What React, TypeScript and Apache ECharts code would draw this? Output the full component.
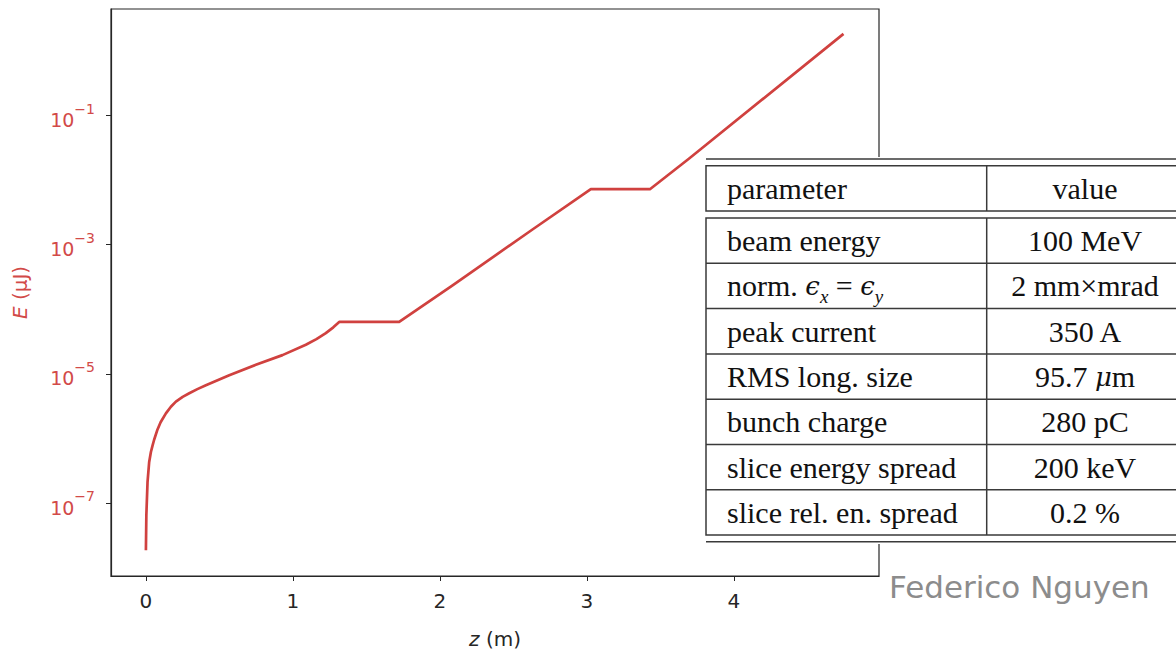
import React, { useEffect, useRef } from "react";
import * as echarts from "echarts";

// curve: position z (m) and pulse energy E (μJ)
const zValues = [
  0, 0.003, 0.011, 0.022, 0.034, 0.045, 0.056, 0.079, 0.1, 0.136, 0.17, 0.204, 0.25, 0.295, 0.35, 0.408, 0.567,
  0.748, 0.929, 1.088, 1.16, 1.224, 1.275, 1.315, 1.723, 2.084, 2.63, 3.027, 3.429, 3.696, 4.746,
];
const energyValues = [
  1.86e-8, 6.46e-8, 2.1e-7, 4.27e-7, 6.17e-7, 7.76e-7, 9.55e-7, 1.38e-6, 1.78e-6, 2.45e-6, 3.1e-6, 3.72e-6,
  4.4e-6, 5.01e-6, 5.8e-6, 6.68e-6, 9.55e-6, 1.38e-5, 1.95e-5, 2.82e-5, 3.45e-5, 4.27e-5, 5.25e-5, 6.37e-5,
  6.37e-5, 2.33e-4, 1.72e-3, 7.24e-3, 7.24e-3, 2.16e-2, 1.84,
];

const xTicks = [0, 1, 2, 3, 4];
const yTickExponents = [-7, -5, -3, -1];

const tableHeader = ["parameter", "value"];
const paramNames = [
  "beam energy",
  "norm. {it|ϵ}{sub|x} = {it|ϵ}{sub|y}",
  "peak current",
  "RMS long. size",
  "bunch charge",
  "slice energy spread",
  "slice rel. en. spread",
];
const paramValues = ["100 MeV", "2 mm×mrad", "350 A", "95.7 {it|μ}m", "280 pC", "200 keV", "0.2 %"];
const signature = "Federico Nguyen";

const RED = "#d0413f";
const LABEL_RED = "#d24a48";
const DARK = "#262626";
const SANS = "'DejaVu Sans', sans-serif";
const SERIF = "'Liberation Serif', 'DejaVu Serif', serif";

export default function App() {
  const ref = useRef<HTMLDivElement>(null);

  useEffect(() => {
    if (!ref.current) return;
    const chart = echarts.init(ref.current, null, { renderer: "svg" });

    const serifRich = {
      it: { fontFamily: "'DejaVu Serif', serif", fontStyle: "italic", fontSize: 26, color: "#111" },
      sub: { fontFamily: SERIF, fontStyle: "italic", fontSize: 19, color: "#111", verticalAlign: "bottom", lineHeight: 40 },
    };

    const lineStyle = { stroke: "#3a3a3a", lineWidth: 1.5 };
    const tableLeft = 706;
    const tableRight = 1200;
    const divX = 986.7;
    const headTop = 165.7;
    const headBottom = 211;
    const bodyTop = 218;
    const rowH = 45.3;
    const bodyBottom = bodyTop + rowH * paramNames.length;
    const leftTextX = 727;
    const rightCenterX = 1085;

    const graphics: any[] = [];
    graphics.push({ type: "rect", z: 100, shape: { x: 703, y: 157, width: 480, height: 387 }, style: { fill: "#fff", stroke: null } });
    graphics.push({ type: "line", z: 101, shape: { x1: tableLeft, y1: 159, x2: tableRight, y2: 159 }, style: lineStyle });
    graphics.push({ type: "rect", z: 101, shape: { x: tableLeft, y: headTop, width: tableRight - tableLeft, height: headBottom - headTop }, style: { ...lineStyle, fill: null } });
    graphics.push({ type: "line", z: 101, shape: { x1: divX, y1: headTop, x2: divX, y2: headBottom }, style: lineStyle });
    graphics.push({ type: "rect", z: 101, shape: { x: tableLeft, y: bodyTop, width: tableRight - tableLeft, height: bodyBottom - bodyTop }, style: { ...lineStyle, fill: null } });
    graphics.push({ type: "line", z: 101, shape: { x1: divX, y1: bodyTop, x2: divX, y2: bodyBottom }, style: lineStyle });
    for (let k = 1; k < paramNames.length; k++) {
      const y = bodyTop + rowH * k;
      graphics.push({ type: "line", z: 101, shape: { x1: tableLeft, y1: y, x2: tableRight, y2: y }, style: lineStyle });
    }
    graphics.push({ type: "line", z: 101, shape: { x1: tableLeft, y1: bodyBottom + 6.7, x2: tableRight, y2: bodyBottom + 6.7 }, style: lineStyle });

    const cellText = (text: string, x: number, y: number, align: string) => ({
      type: "text",
      z: 102,
      x,
      y,
      style: {
        text,
        fill: "#111",
        fontSize: 30,
        fontFamily: SERIF,
        align,
        verticalAlign: "middle",
        rich: serifRich,
      },
    });
    const headY = (headTop + headBottom) / 2;
    graphics.push(cellText(tableHeader[0], leftTextX, headY, "left"));
    graphics.push(cellText(tableHeader[1], rightCenterX, headY, "center"));
    paramNames.forEach((name, i) => {
      const y = bodyTop + rowH * (i + 0.5);
      graphics.push(cellText(name, leftTextX, y, "left"));
      graphics.push(cellText(paramValues[i], rightCenterX, y, "center"));
    });
    graphics.push({
      type: "text",
      z: 102,
      x: 889,
      y: 587,
      style: { text: signature, fill: "#8c8c8c", fontSize: 31, fontFamily: SANS, align: "left", verticalAlign: "middle" },
    });

    const option: any = {
      animation: false,
      backgroundColor: "#ffffff",
      grid: { left: 111, top: 9, right: 297, bottom: 73, show: true, borderColor: DARK, borderWidth: 1.2, backgroundColor: "transparent" },
      xAxis: {
        type: "value",
        min: -0.2375,
        max: 4.9875,
        axisLine: { show: true, onZero: false, lineStyle: { color: DARK, width: 1.2 } },
        axisTick: { show: true, customValues: xTicks, length: 5, lineStyle: { color: DARK, width: 1 } },
        axisLabel: { customValues: xTicks, color: DARK, fontSize: 20, fontFamily: SANS, margin: 15 },
        splitLine: { show: false },
        name: "{i|z} (m)",
        nameLocation: "middle",
        nameGap: 53,
        nameTextStyle: {
          color: DARK,
          fontSize: 20,
          fontFamily: SANS,
          rich: { i: { fontStyle: "italic", fontSize: 20, fontFamily: SANS, color: DARK } },
        },
      },
      yAxis: {
        type: "value",
        min: -8.13,
        max: 0.65,
        axisLine: { show: true, onZero: false, lineStyle: { color: DARK, width: 1.2 } },
        axisTick: { show: true, customValues: yTickExponents, length: 5, lineStyle: { color: DARK, width: 1 } },
        axisLabel: {
          customValues: yTickExponents,
          margin: 16,
          formatter: (v: number) => `{b|10}{s|−${Math.abs(v)}}`,
          rich: {
            b: { fontSize: 19, color: LABEL_RED, fontFamily: SANS, lineHeight: 28, verticalAlign: "bottom" },
            s: { fontSize: 14, color: LABEL_RED, fontFamily: SANS, lineHeight: 14, verticalAlign: "top" },
          },
        },
        splitLine: { show: false },
        name: "{i|E} (μJ)",
        nameLocation: "middle",
        nameGap: 81,
        nameRotate: 90,
        nameTextStyle: {
          color: LABEL_RED,
          fontSize: 20,
          fontFamily: SANS,
          rich: { i: { fontStyle: "italic", fontSize: 20, fontFamily: SANS, color: LABEL_RED } },
        },
      },
      series: [
        {
          type: "line",
          data: zValues.map((z, i) => [z, Math.log10(energyValues[i])]),
          showSymbol: false,
          lineStyle: { color: RED, width: 2.7, join: "round" },
          z: 3,
        },
      ],
      graphic: { elements: graphics },
    };
    chart.setOption(option);
    return () => chart.dispose();
  }, []);

  return <div ref={ref} style={{ position: "fixed", left: 0, top: 0, width: 1176, height: 654 }} />;
}
